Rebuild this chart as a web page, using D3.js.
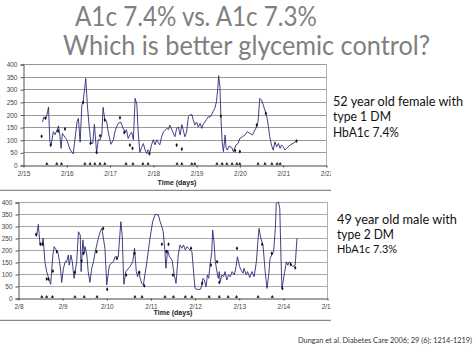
<!DOCTYPE html>
<html><head><meta charset="utf-8">
<script src="https://cdn.jsdelivr.net/npm/d3@7"></script>
<style>
html,body{margin:0;padding:0;background:#fff;}
svg{display:block;}
</style></head>
<body>
<svg id="c" width="474" height="356"></svg>
<script>
// ---------- DATA ----------
const titleLines = ["A1c 7.4% vs. A1c 7.3%", "Which is better glycemic control?"];
const topNote = ["52 year old female with", "type 1 DM", "HbA1c 7.4%"];
const bottomNote = ["49 year old male with", "type 2 DM", "HbA1c 7.3%"];
const citation = "Dungan et al. Diabetes Care 2006; 29 (6): 1214-1219)";
const xAxisTitle = "Time (days)";
const yTicks = [0, 50, 100, 150, 200, 250, 300, 350, 400];
const topDateLabels = ["2/15", "2/16", "2/17", "2/18", "2/19", "2/20", "2/21", "2/22"];
const bottomDateLabels = ["2/8", "2/9", "2/10", "2/11", "2/12", "2/13", "2/14", "2/15"];

// Top chart: continuous glucose trace (days since 2/15, mg/dL)
const topDays = [0.45,0.48,0.52,0.55,0.59,0.62,0.65,0.70,0.74,0.79,0.82,0.85,0.88,0.91,0.97,1.01,1.09,1.16,1.25,1.28,1.32,1.36,1.39,1.45,1.49,1.53,1.57,1.61,1.65,1.70,1.74,1.78,1.82,1.85,1.89,1.93,1.97,2.03,2.09,2.12,2.16,2.20,2.26,2.30,2.36,2.39,2.43,2.47,2.51,2.55,2.59,2.63,2.65,2.66,2.70,2.74,2.78,2.82,2.86,2.89,2.93,2.97,3.01,3.05,3.09,3.12,3.16,3.20,3.24,3.32,3.36,3.39,3.51,3.55,3.59,3.63,3.67,3.70,3.74,3.78,3.82,3.86,3.90,3.93,3.97,4.01,4.05,4.09,4.13,4.16,4.20,4.24,4.28,4.32,4.36,4.39,4.43,4.47,4.50,4.52,4.55,4.57,4.60,4.63,4.67,4.69,4.72,4.76,4.82,4.86,4.92,4.97,5.01,5.07,5.13,5.18,5.24,5.30,5.36,5.40,5.43,5.47,5.51,5.55,5.61,5.64,5.67,5.70,5.74,5.78,5.82,5.86,5.90,5.94,5.97,6.01,6.05,6.09,6.17,6.24,6.32];
const topGlucose = [170,190,185,195,230,92,80,132,120,140,155,120,66,125,110,100,60,44,172,185,90,238,250,343,230,150,86,85,161,49,100,100,119,228,178,175,130,82,100,130,150,165,170,150,130,140,105,120,130,100,264,240,170,135,50,70,85,60,45,60,50,80,100,80,100,90,80,110,130,145,140,158,112,145,150,119,160,140,112,130,191,198,200,180,158,170,150,165,145,160,170,180,191,190,200,211,224,251,304,354,310,198,92,53,119,70,59,75,70,53,79,86,106,112,119,132,125,119,139,152,172,264,257,238,205,185,152,112,79,59,92,72,86,66,79,73,59,66,79,86,95];
// Top chart: fingerstick readings
const topMeterDays = [0.43,0.52,0.64,0.81,0.97,1.39,1.56,1.70,1.78,1.89,2.24,2.34,2.47,2.53,2.92,3.55,3.67,4.57,4.90,5.01,5.40,5.61,6.32];
const topMeterGlucose = [114,185,79,135,143,248,86,50,116,178,187,129,79,66,45,79,63,194,57,53,158,205,95];
// Top chart: event markers on the time axis
const topEventDays = [0.55,0.78,0.89,1.43,1.55,1.66,1.78,1.89,2.38,2.54,2.77,2.89,3.56,3.67,3.90,3.97,4.48,4.60,4.71,4.83,4.94,5.01,5.43,5.59,5.75,5.87,5.94];

// Bottom chart: continuous glucose trace (days since 2/8, mg/dL)
const bottomDays = [0.42,0.46,0.50,0.54,0.57,0.61,0.65,0.69,0.74,0.79,0.82,0.91,0.94,0.97,0.99,1.03,1.07,1.10,1.14,1.16,1.20,1.23,1.27,1.33,1.37,1.41,1.43,1.47,1.50,1.52,1.56,1.59,1.63,1.67,1.71,1.75,1.82,1.86,1.90,1.97,2.01,2.07,2.12,2.16,2.20,2.27,2.33,2.36,2.39,2.40,2.44,2.54,2.60,2.64,2.68,2.71,2.73,2.77,2.80,2.84,2.92,2.99,3.05,3.11,3.18,3.22,3.26,3.29,3.33,3.35,3.39,3.43,3.49,3.51,3.54,3.58,3.63,3.67,3.71,3.75,3.79,3.83,3.86,3.94,3.98,4.01,4.05,4.13,4.17,4.19,4.22,4.26,4.29,4.32,4.35,4.39,4.41,4.44,4.47,4.52,4.54,4.56,4.58,4.62,4.66,4.69,4.73,4.77,4.81,4.85,4.90,4.94,4.97,5.02,5.05,5.10,5.12,5.17,5.20,5.25,5.30,5.35,5.40,5.44,5.46,5.50,5.55,5.60,5.64,5.68,5.71,5.79,5.83,5.85,5.90,5.93,5.96,5.98,6.03,6.08,6.11,6.15,6.19,6.23,6.28,6.32];
const bottomGlucose = [256,307,221,224,249,151,110,85,57,179,214,186,151,110,65,124,151,151,179,137,179,151,82,151,276,262,110,242,186,214,179,110,65,124,151,193,249,276,290,207,54,137,144,151,172,170,318,262,96,57,110,131,151,207,110,89,110,82,61,54,151,249,318,349,346,318,297,276,193,124,200,172,158,131,96,61,179,221,207,221,200,214,207,193,103,40,36,36,54,82,75,47,96,82,137,193,283,235,151,96,82,110,68,96,89,110,75,96,89,110,96,131,172,131,117,103,124,96,110,85,110,89,151,249,290,249,221,110,40,96,165,193,290,394,400,374,151,40,96,151,137,151,137,131,137,249];
// Bottom chart: fingerstick readings
const bottomMeterDays = [0.41,0.51,0.56,0.65,0.69,0.79,0.88,1.29,1.44,1.48,1.78,1.93,2.02,2.24,2.45,2.64,2.75,2.86,3.26,3.36,3.41,3.51,3.92,4.17,4.37,4.51,4.56,4.96,5.53,5.75,5.99,6.18,6.28];
const bottomMeterGlucose = [265,224,224,79,79,112,193,107,155,186,193,290,36,165,96,186,107,51,224,193,224,96,207,61,137,151,65,207,224,186,40,140,126];
// Bottom chart: event markers on the time axis
const bottomEventDays = [0.54,0.65,0.78,1.29,1.50,1.79,2.65,2.81,3.33,3.52,3.79,3.94,4.33,4.56,4.76,4.95,5.44,5.76];

// ---------- DRAW ----------
const svg = d3.select("#c");
const grey = "#7f7f7f";

// Title
const titleSpec = [{x:75, y:26, len:242}, {x:63, y:55, len:367}];
svg.selectAll("text.title").data(titleLines).join("text")
  .attr("class","title")
  .attr("x",(d,i)=>titleSpec[i].x).attr("y",(d,i)=>titleSpec[i].y)
  .attr("textLength",(d,i)=>titleSpec[i].len).attr("lengthAdjust","spacingAndGlyphs")
  .attr("font-family","Lato, 'Open Sans', sans-serif").attr("font-size",26)
  .attr("fill",grey).text(d=>d);

const defs = svg.append("defs");

function drawChart(cfg){
  const clipId = "clip"+cfg.id;
  defs.append("clipPath").attr("id",clipId).append("rect")
    .attr("x",0).attr("y",cfg.clipTop).attr("width",cfg.clipRight).attr("height",cfg.clipBottom-cfg.clipTop);
  const g = svg.append("g").attr("clip-path",`url(#${clipId})`);
  const x = d3.scaleLinear().domain([0,7]).range([cfg.left,cfg.right]);
  const y = d3.scaleLinear().domain([0,400]).range([cfg.bottom,cfg.top]);

  // frame line under chart image
  g.append("line").attr("x1",0).attr("x2",cfg.clipRight)
    .attr("y1",cfg.clipBottom-0.5).attr("y2",cfg.clipBottom-0.5)
    .attr("stroke","#8a8a8a").attr("stroke-width",1.5);

  // gridlines
  g.append("g").selectAll("line").data(yTicks.filter(v=>v>0)).join("line")
    .attr("x1",cfg.left).attr("x2",cfg.right)
    .attr("y1",d=>Math.round(y(d))+0.5).attr("y2",d=>Math.round(y(d))+0.5)
    .attr("stroke",cfg.gridColor).attr("stroke-width",1);
  // right border
  g.append("line").attr("x1",cfg.right+0.5).attr("x2",cfg.right+0.5)
    .attr("y1",y(400)).attr("y2",y(0)).attr("stroke","#b0b0b0");

  // y axis
  const ya = g.append("g").attr("transform",`translate(${cfg.left+0.5},0.5)`)
    .call(d3.axisLeft(y).tickValues(yTicks).tickSize(3).tickPadding(3));
  ya.select(".domain").attr("stroke","#555");
  ya.selectAll(".tick line").attr("stroke","#555");
  ya.selectAll("text").attr("font-family","Arial, 'Liberation Sans', sans-serif")
    .attr("font-size",6.5).attr("fill","#444");

  // x axis
  const xa = g.append("g").attr("transform",`translate(0.5,${cfg.bottom+0.5})`)
    .call(d3.axisBottom(x).tickValues(d3.range(0,8)).tickFormat(i=>cfg.labels[i]).tickSize(2).tickPadding(4).tickSizeOuter(0));
  xa.select(".domain").attr("stroke","#444");
  xa.selectAll(".tick line").attr("stroke","#444");
  xa.selectAll("text").attr("font-family","Arial, 'Liberation Sans', sans-serif")
    .attr("font-size",6.5).attr("fill","#444");

  g.append("text").attr("x",cfg.titleX).attr("y",cfg.titleY).attr("text-anchor","middle")
    .attr("font-family","Arial, 'Liberation Sans', sans-serif").attr("font-weight","bold")
    .attr("font-size",7).attr("fill","#222").text(xAxisTitle);

  // trace
  const pts = cfg.days.map((d,i)=>[d,cfg.glucose[i]]);
  g.append("path").datum(pts)
    .attr("d",d3.line().x(d=>x(d[0])).y(d=>y(d[1])))
    .attr("fill","none").attr("stroke","#2c2c78").attr("stroke-width",0.9).attr("stroke-linejoin","round");

  // fingerstick markers
  const mk = cfg.meterDays.map((d,i)=>[d,cfg.meterGlucose[i]]);
  g.append("g").selectAll("path").data(mk).join("path")
    .attr("transform",d=>`translate(${x(d[0])},${y(d[1])})`)
    .attr("d",d3.symbol(d3.symbolDiamond,5)).attr("fill","#111");

  // event triangles on axis
  g.append("g").selectAll("path").data(cfg.eventDays).join("path")
    .attr("transform",d=>`translate(${x(d)},${y(0)-1.2})`)
    .attr("d",d3.symbol(d3.symbolTriangle,4.5)).attr("fill","#111");
}

drawChart({id:"top", left:23, right:326, top:64, bottom:165, clipTop:60, clipBottom:191, clipRight:331,
  labels:topDateLabels, titleX:177, titleY:185, gridColor:"#999",
  days:topDays, glucose:topGlucose, meterDays:topMeterDays, meterGlucose:topMeterGlucose, eventDays:topEventDays});
drawChart({id:"bot", left:18, right:327, top:202, bottom:298, clipTop:195, clipBottom:321, clipRight:331,
  labels:bottomDateLabels, titleX:173, titleY:315, gridColor:"#a8a8a8",
  days:bottomDays, glucose:bottomGlucose, meterDays:bottomMeterDays, meterGlucose:bottomMeterGlucose, eventDays:bottomEventDays});

// side notes
function note(lines, x, ys, lens, sizes){
  svg.append("g").selectAll("text").data(lines).join("text")
    .attr("x",x).attr("y",(d,i)=>ys[i])
    .attr("textLength",(d,i)=>lens[i]).attr("lengthAdjust","spacingAndGlyphs")
    .attr("font-family","Lato, 'Open Sans', sans-serif").attr("font-size",(d,i)=>sizes[i])
    .attr("fill","#111").text(d=>d);
}
note(topNote, 333, [106,121,137], [130,58,66], [12.5,12.5,12.5]);
note(bottomNote, 337, [224,239,253], [120,57,60], [12.5,12.5,11.5]);

svg.append("text").attr("x",298).attr("y",343).attr("textLength",174).attr("lengthAdjust","spacingAndGlyphs")
  .attr("font-family","Lato, 'Open Sans', sans-serif").attr("font-size",7)
  .attr("fill","#333").text(citation);
</script>
</body></html>
